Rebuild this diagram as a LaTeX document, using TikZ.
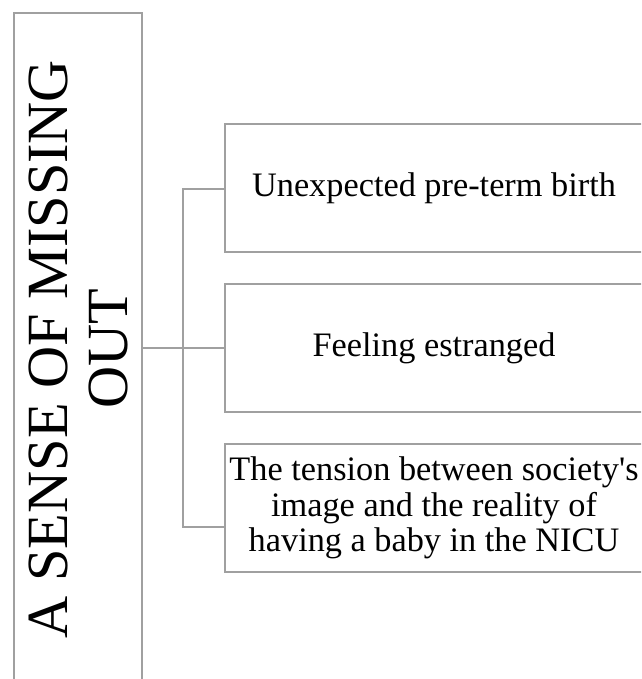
\documentclass[tikz,border=0pt]{standalone}
\usepackage{fontspec}
\setmainfont[Ligatures=TeXOff]{Liberation Serif}
\definecolor{lc}{RGB}{160,160,160}
\begin{document}
\begin{tikzpicture}[x=1pt,y=-1pt,
  boxstyle/.style={draw=lc,line width=2.5pt,fill=white,inner sep=0pt,outer sep=0pt},
  linkstyle/.style={draw=lc,line width=2.5pt},
  smalltext/.style={font=\fontsize{34.3}{35.5}\selectfont,align=center,text=black}]
\useasboundingbox (0,0) rectangle (641,679);
\clip (0,0) rectangle (641,679);
% left box
\node[boxstyle,minimum width=128pt,minimum height=672pt] (L) at (78,349) {};
\node[rotate=90,font=\fontsize{58.3}{60}\selectfont,align=center,inner sep=0pt] (Lt) at (78,349) {A SENSE OF MISSING\\OUT};
% right boxes
\node[boxstyle,minimum width=418pt,minimum height=128pt] (b1) at (434,188) {};
\node[smalltext,inner sep=0pt] (t1) at (b1.center) {Unexpected pre-term birth};
\node[boxstyle,minimum width=418pt,minimum height=128pt] (b2) at (434,348) {};
\node[smalltext,inner sep=0pt] (t2) at (b2.center) {Feeling estranged};
\node[boxstyle,minimum width=418pt,minimum height=128pt] (b3) at (434,508) {};
\node[smalltext,inner sep=0pt] (t3) at (b3.center) {The tension between society's\\image and the reality of\\having a baby in the NICU};
% connectors
\coordinate (jt) at (183,189);
\coordinate (jb) at (183,527);
\draw[linkstyle] (b1.west |- jt) -- (jt) -- (jb) -- (b3.west |- jb);
\draw[linkstyle] (L.east |- b2.west) -- (b2.west);
\end{tikzpicture}
\end{document}
